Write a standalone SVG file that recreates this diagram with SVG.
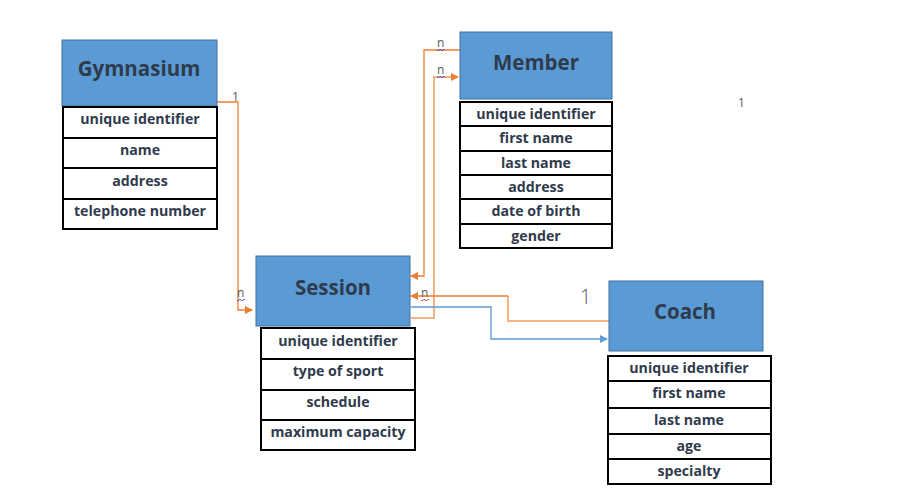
<svg xmlns="http://www.w3.org/2000/svg" width="901" height="499" viewBox="0 0 901 499">
<defs>
<style>
.hdr{fill:#5B9BD5;stroke:#41719C;stroke-width:1}
.row{fill:#FFFFFF;stroke:#000000;stroke-width:2}
.ht{font-family:"Open Sans","Noto Sans",sans-serif;font-weight:bold;font-size:20.5px;fill:#2F3B4C;text-anchor:middle}
.at{font-family:"Open Sans","Noto Sans",sans-serif;font-weight:bold;font-size:14.2px;fill:#2F3B4C;text-anchor:middle}
.lbl{font-family:"Open Sans","Noto Sans",sans-serif;font-size:12px;fill:#595959}
.c{fill:none;stroke-width:1.3}
.or{stroke:#ED7D31}
.lo{stroke:#F4B183;stroke-width:2}
.bl{stroke:#5B9BD5}
</style>
<marker id="ao" markerWidth="8" markerHeight="8" refX="7" refY="4" orient="auto" markerUnits="userSpaceOnUse"><path d="M0,0 L8,4 L0,8 z" fill="#ED7D31"/></marker>
<marker id="ab" markerWidth="8" markerHeight="8" refX="7" refY="4" orient="auto" markerUnits="userSpaceOnUse"><path d="M0,0 L8,4 L0,8 z" fill="#5B9BD5"/></marker>
</defs>

<g id="connectors">
<polyline class="c or" points="217,102 238,102 238,310 252,310" marker-end="url(#ao)"/>
<polyline class="c or" points="460,50 424,50 424,276 411,276" marker-end="url(#ao)"/>
<polyline class="c lo" points="411,318 434,318 434,77 458,77" marker-end="url(#ao)"/>
<polyline class="c lo" points="609,321 508,321 508,296"/>
<polyline class="c or" points="508,296 411,296" marker-end="url(#ao)"/>
<polyline class="c bl" points="411,307 491,307 491,339 607,339" marker-end="url(#ab)"/>
<text class="lbl" x="232" y="101">1</text>
<text class="lbl" x="237" y="297">n</text>
<path d="M237,300 q1,1.5 2,0 t2,0 t2,0 t2,0" fill="none" stroke="#3333CC" stroke-width="0.8"/>
<text class="lbl" x="437" y="47">n</text>
<path d="M437,50 q1,1.5 2,0 t2,0 t2,0 t2,0" fill="none" stroke="#3333CC" stroke-width="0.8"/>
<text class="lbl" x="437" y="74">n</text>
<path d="M437,77 q1,1.5 2,0 t2,0 t2,0 t2,0" fill="none" stroke="#3333CC" stroke-width="0.8"/>
<text class="lbl" x="421" y="297">n</text>
<path d="M421,300 q1,1.5 2,0 t2,0 t2,0 t2,0" fill="none" stroke="#DD2222" stroke-width="0.8"/>
<text class="lbl" x="580" y="304" style="font-size:20px;font-weight:300">1</text>
<text class="lbl" x="738" y="107">1</text>
</g>

<g id="gymnasium">
<rect class="hdr" x="62" y="40" width="155" height="66"/>
<text class="ht" x="139" y="76">Gymnasium</text>
<rect class="row" x="63" y="107" width="154" height="31"/>
<rect class="row" x="63" y="138" width="154" height="30"/>
<rect class="row" x="63" y="168" width="154" height="31"/>
<rect class="row" x="63" y="199" width="154" height="30"/>
<text class="at" x="140" y="124">unique identifier</text>
<text class="at" x="140" y="155">name</text>
<text class="at" x="140" y="186">address</text>
<text class="at" x="140" y="216">telephone number</text>
</g>

<g id="member">
<rect class="hdr" x="460" y="32" width="152" height="67"/>
<text class="ht" x="536" y="70">Member</text>
<rect class="row" x="460" y="102" width="152" height="24"/>
<rect class="row" x="460" y="126" width="152" height="25"/>
<rect class="row" x="460" y="151" width="152" height="24"/>
<rect class="row" x="460" y="175" width="152" height="24"/>
<rect class="row" x="460" y="199" width="152" height="25"/>
<rect class="row" x="460" y="224" width="152" height="24"/>
<text class="at" x="536" y="119">unique identifier</text>
<text class="at" x="536" y="143">first name</text>
<text class="at" x="536" y="168">last name</text>
<text class="at" x="536" y="192">address</text>
<text class="at" x="536" y="216">date of birth</text>
<text class="at" x="536" y="241">gender</text>
</g>

<g id="session">
<rect class="hdr" x="256" y="256" width="154" height="70"/>
<text class="ht" x="333" y="295">Session</text>
<rect class="row" x="261" y="328" width="154" height="31"/>
<rect class="row" x="261" y="359" width="154" height="31"/>
<rect class="row" x="261" y="390" width="154" height="30"/>
<rect class="row" x="261" y="420" width="154" height="30"/>
<text class="at" x="338" y="346">unique identifier</text>
<text class="at" x="338" y="376">type of sport</text>
<text class="at" x="338" y="407">schedule</text>
<text class="at" x="338" y="437">maximum capacity</text>
</g>

<g id="coach">
<rect class="hdr" x="609" y="281" width="154" height="70"/>
<text class="ht" x="685" y="319">Coach</text>
<rect class="row" x="608" y="356" width="163" height="25"/>
<rect class="row" x="608" y="381" width="163" height="27"/>
<rect class="row" x="608" y="408" width="163" height="26"/>
<rect class="row" x="608" y="434" width="163" height="25"/>
<rect class="row" x="608" y="459" width="163" height="25"/>
<text class="at" x="689" y="373">unique identifier</text>
<text class="at" x="689" y="398">first name</text>
<text class="at" x="689" y="425">last name</text>
<text class="at" x="689" y="451">age</text>
<text class="at" x="689" y="476">specialty</text>
</g>
</svg>
